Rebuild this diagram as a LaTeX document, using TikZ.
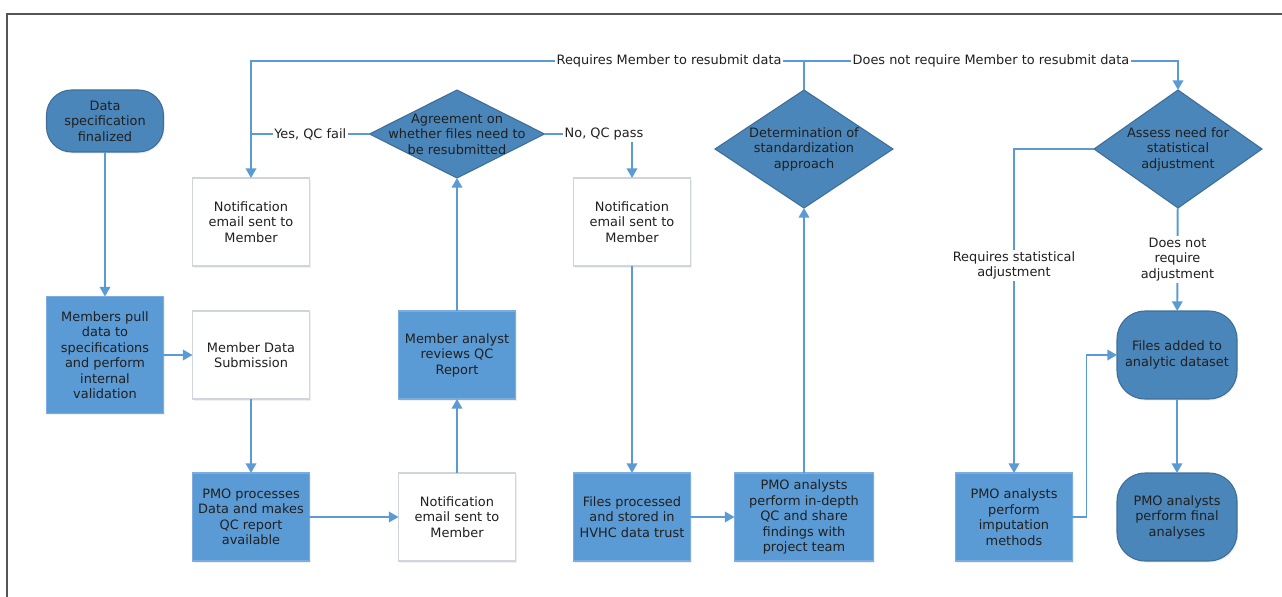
\documentclass[tikz,border=0pt]{standalone}
\usepackage{fontspec}
\setmainfont{DejaVu Sans}
\usetikzlibrary{arrows.meta, shapes.geometric, shadows}

\definecolor{lineblue}{RGB}{91,155,213}
\definecolor{boxblue}{RGB}{91,155,213}
\definecolor{boxedge}{RGB}{125,172,222}
\definecolor{darkblue}{RGB}{74,134,186}
\definecolor{darkedge}{RGB}{62,110,152}
\definecolor{noteedge}{RGB}{208,213,220}
\definecolor{inkdark}{RGB}{32,32,32}
\definecolor{framegray}{RGB}{85,85,85}

\begin{document}
\begin{tikzpicture}[
    x=0.02cm, y=-0.02cm,
    font=\fontsize{7.35}{8.8}\selectfont,
    every node/.style={text=inkdark},
    box/.style={rectangle, draw=boxedge, fill=boxblue, line width=0.6pt,
      minimum width=2.34cm, minimum height=1.76cm, align=center,
      inner sep=1pt, outer sep=0pt,
      drop shadow={opacity=0.12, shadow xshift=0.7pt, shadow yshift=-0.9pt}},
    note/.style={box, draw=noteedge, fill=white},
    pill/.style={box, draw=darkedge, fill=darkblue, rounded corners=0.56cm},
    decision/.style={diamond, draw=darkedge, fill=darkblue, line width=0.6pt,
      inner sep=0pt, outer sep=0pt, minimum width=3.5cm, minimum height=1.76cm},
    arr/.style={-{Triangle[length=5.5pt, width=6pt]}, line width=1.1pt, lineblue},
    ln/.style={line width=1.1pt, lineblue},
    lbl/.style={fill=white, inner sep=1pt, align=center}
  ]
    \useasboundingbox (0,0) rectangle (1282,597);
    \draw[framegray, line width=1.1pt] (7,597) -- (7,14) -- (1282,14);

    % member side
    \node[pill, minimum height=1.24cm, rounded corners=0.5cm] (start) at (105,121)
      {Data\\specification\\finalized};
    \node[box, minimum height=2.34cm] (pull) at (105,355)
      {Members pull\\data to\\specifications\\and perform\\internal\\validation};
    \node[note] (notifA) at (251,222) {Notification\\email sent to\\Member};
    \node[note] (submit) at (251,355) {Member Data\\Submission};
    \node[box] (pmoproc) at (251,517) {PMO processes\\Data and makes\\QC report\\available};
    \node[note] (notifB) at (457,517) {Notification\\email sent to\\Member};
    \node[box] (review) at (457,355) {Member analyst\\reviews QC\\Report};
    \node[decision, label={[align=center]center:Agreement on\\whether files need to\\be resubmitted}]
      (agree) at (457,134) {};

    % PMO side
    \node[note] (notifC) at (632,222) {Notification\\email sent to\\Member};
    \node[box] (stored) at (632,517) {Files processed\\and stored in\\HVHC data trust};
    \node[box, minimum width=2.78cm] (indepth) at (804,517)
      {PMO analysts\\perform in-depth\\QC and share\\findings with\\project team};
    \node[decision, minimum width=3.56cm, minimum height=2.36cm,
      label={[align=center]center:Determination of\\standardization\\approach}]
      (determ) at (804,149) {};
    \node[decision, minimum width=3.36cm, minimum height=2.36cm,
      label={[align=center]center:Assess need for\\statistical\\adjustment}]
      (assess) at (1178,149) {};
    \node[box] (imput) at (1014,517) {PMO analysts\\perform\\imputation\\methods};
    \node[pill, minimum width=2.4cm] (added) at (1177,355) {Files added to\\analytic dataset};
    \node[pill, minimum width=2.4cm] (final) at (1177,517) {PMO analysts\\perform final\\analyses};

    \coordinate (split) at (804,61);
    \coordinate (back) at (251,61);
    \coordinate (ahead) at (1178,61);

    \draw[arr] (start) -- (pull);
    \draw[arr] (pull) -- (submit);
    \draw[arr] (submit) -- (pmoproc);
    \draw[arr] (pmoproc) -- (notifB);
    \draw[arr] (notifB) -- (review);
    \draw[arr] (review) -- (agree);
    \draw[ln] (agree.west) -- node[lbl]{Yes, QC fail} (agree.west -| notifA);
    \draw[arr] (agree.east) -| node[lbl, pos=0.34]{No, QC pass} (notifC);
    \draw[arr] (determ.north) -- (split)
      -- node[lbl, pos=0.244]{Requires Member to resubmit data} (back) -- (notifA);
    \draw[arr] (split) -- node[lbl]{Does not require Member to resubmit data} (ahead) -- (assess);
    \draw[arr] (notifC) -- (stored);
    \draw[arr] (stored) -- (indepth);
    \draw[arr] (indepth) -- (determ);
    \draw[arr] (assess.west) -| node[lbl, pos=0.68]{Requires statistical\\adjustment} (imput);
    \draw[arr] (assess) -- node[lbl]{Does not\\require\\adjustment} (added);
    \draw[arr] (imput.east) -- ++(14,0) |- (added.west);
    \draw[arr] (added) -- (final);
  \end{tikzpicture}
\end{document}
